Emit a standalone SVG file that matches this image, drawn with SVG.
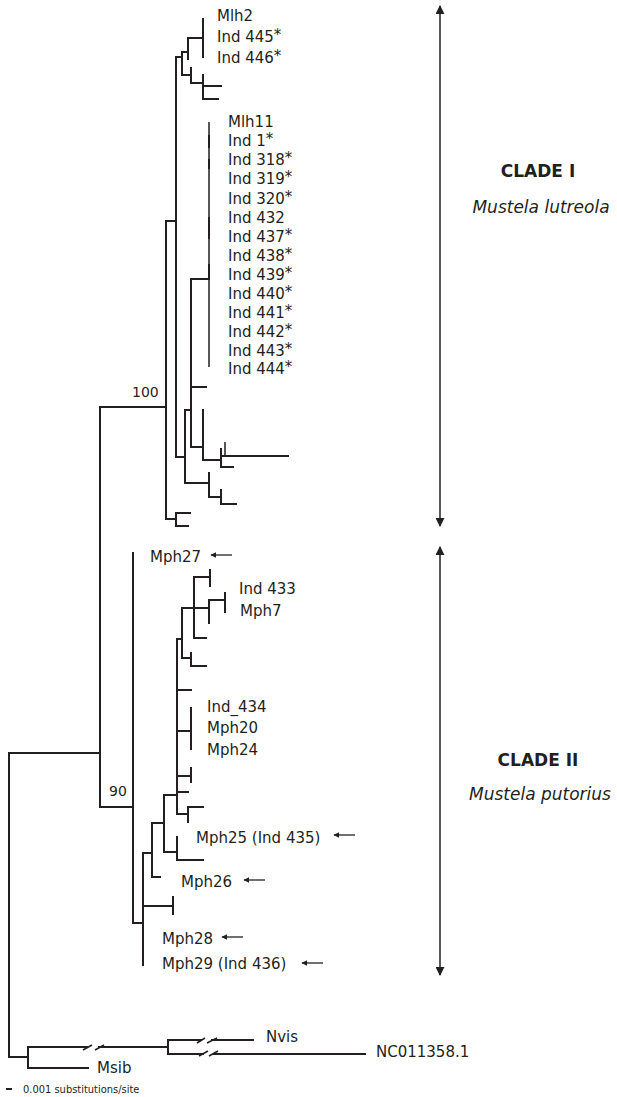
<svg xmlns="http://www.w3.org/2000/svg" width="617" height="1097" viewBox="0 0 617 1097">
<style>
.br{fill:none;stroke:#231f20;stroke-width:2;stroke-linecap:square}
.thin{fill:none;stroke:#231f20;stroke-width:1.5}
.lb{font-family:"DejaVu Sans",Verdana,sans-serif;font-size:15px;fill:#231f20}
.bs{font-family:"DejaVu Sans",Verdana,sans-serif;font-size:14px;fill:#231f20}
.ar{fill:none;stroke:#231f20;stroke-width:1.3}
.big{font-family:"DejaVu Sans",Verdana,sans-serif;font-size:17px;font-weight:bold;fill:#231f20}
.sp{font-family:"DejaVu Sans",Verdana,sans-serif;font-size:17px;font-style:italic;fill:#231f20}
.sc{font-family:"DejaVu Sans Condensed","DejaVu Sans",sans-serif;font-size:11px;fill:#231f20}
</style>
<defs>
<marker id="ah" viewBox="0 0 10 10" refX="9" refY="5" markerWidth="6" markerHeight="6" orient="auto-start-reverse" markerUnits="userSpaceOnUse">
<path d="M0 0 L10 5 L0 10 z" fill="#231f20"/>
</marker>
<marker id="ah2" viewBox="0 0 10 10" refX="9" refY="5" markerWidth="9" markerHeight="9" orient="auto-start-reverse" markerUnits="userSpaceOnUse">
<path d="M0 0 L10 5 L0 10 z" fill="#231f20"/>
</marker>
</defs>
<g id="connectors">
<path class="br" d="M9 753 H100 M100 407 V807 M100 807 H133 M9 753 V1057
M100 407 H166 M166 221 V519 M166 221 H176 M176 57 V457 M176 57 H182 M182 52 V75 M182 52 H188 M188 38 V59 M188 38 H203 M203 19 V57
M182 75 H191 M191 68 V83 M191 83 H203 M203 75 V99 M203 86 H221 M203 99 H218
M176 457 H185 M185 410 V483 M185 410 H191 M191 279 V447 M191 279 H209
M191 387 H206 M191 447 H203 M203 410 V460 M203 460 H221 M221 449 V467 M221 456 H288 M221 467 H233
M185 483 H209 M209 473 V497 M209 497 H221 M221 490 V504 M221 504 H236
M166 519 H176 M176 513 V526 M176 513 H190 M176 526 H188"/>
<path class="thin" d="M225 442 V456 M209 122 V367"/>
<path class="br" d="M209 136 V147 M209 160 V168 M209 218 V238 M209 265 V277 M203 410 V443"/>
<path class="br" d="M133 553 V923 M133 923 H143 M143 853 V965 M143 906 H173 M173 897 V914
M143 853 H152 M152 823 V877 M152 877 H160 M152 823 H164 M164 795 V852 M164 795 H177
M177 639 V814 M177 639 H182 M182 608 V658 M182 608 H194 M194 577 V638 M194 577 H210 M210 570 V586
M194 608 H209 M209 600 V623 M209 600 H225 M225 593 V612 M194 638 H206
M182 658 H191 M191 653 V666 M191 666 H206
M177 690 H191 M177 731 H191 M191 708 V749 M177 776 H191 M191 768 V782
M177 792 H188 M177 814 H188 M188 807 V822 M188 807 H203
M164 852 H177 M177 837 V860 M177 860 H203"/>
<path class="br" d="M9 1057 H28 M28 1047 V1068 M28 1068 H88 M28 1047 H87 M99 1047 H168
M168 1040 V1054 M168 1040 H201 M212 1040 H253 M168 1054 H203 M214 1054 H365"/>
<path class="thin" d="M83 1050 L92 1045 M95 1050 L104 1045 M197 1043 L205 1038 M207 1043 L217 1038 M199 1056 L208 1051 M209 1056 L218 1051"/>
<path class="br" d="M7 1089 H11"/>
<line class="ar" x1="232" y1="555" x2="211" y2="555" marker-end="url(#ah)"/>
<line class="ar" x1="355" y1="835" x2="334" y2="835" marker-end="url(#ah)"/>
<line class="ar" x1="265" y1="880" x2="244" y2="880" marker-end="url(#ah)"/>
<line class="ar" x1="243" y1="937" x2="222" y2="937" marker-end="url(#ah)"/>
<line class="ar" x1="323" y1="963" x2="302" y2="963" marker-end="url(#ah)"/>
<line class="thin" x1="440" y1="6" x2="440" y2="526" marker-start="url(#ah2)" marker-end="url(#ah2)"/>
<line class="thin" x1="440" y1="547" x2="440" y2="975" marker-start="url(#ah2)" marker-end="url(#ah2)"/>
</g>
<g id="clade1-leaves">
<text class="lb" x="217" y="21">Mlh2</text>
<text class="lb" x="217" y="42">Ind 445<tspan dy="-2">*</tspan></text>
<text class="lb" x="217" y="63">Ind 446<tspan dy="-2">*</tspan></text>
<text class="lb" x="228" y="127">Mlh11</text>
<text class="lb" x="228" y="146">Ind 1<tspan dy="-2">*</tspan></text>
<text class="lb" x="228" y="165">Ind 318<tspan dy="-2">*</tspan></text>
<text class="lb" x="228" y="184">Ind 319<tspan dy="-2">*</tspan></text>
<text class="lb" x="228" y="204">Ind 320<tspan dy="-2">*</tspan></text>
<text class="lb" x="228" y="223">Ind 432</text>
<text class="lb" x="228" y="242">Ind 437<tspan dy="-2">*</tspan></text>
<text class="lb" x="228" y="261">Ind 438<tspan dy="-2">*</tspan></text>
<text class="lb" x="228" y="280">Ind 439<tspan dy="-2">*</tspan></text>
<text class="lb" x="228" y="299">Ind 440<tspan dy="-2">*</tspan></text>
<text class="lb" x="228" y="318">Ind 441<tspan dy="-2">*</tspan></text>
<text class="lb" x="228" y="337">Ind 442<tspan dy="-2">*</tspan></text>
<text class="lb" x="228" y="356">Ind 443<tspan dy="-2">*</tspan></text>
<text class="lb" x="228" y="374">Ind 444<tspan dy="-2">*</tspan></text>
</g>
<g id="clade2-leaves">
<text class="lb" x="150" y="562">Mph27</text>
<text class="lb" x="239" y="594">Ind 433</text>
<text class="lb" x="240" y="616">Mph7</text>
<text class="lb" x="207" y="712">Ind_434</text>
<text class="lb" x="207" y="733">Mph20</text>
<text class="lb" x="207" y="755">Mph24</text>
<text class="lb" x="196" y="843">Mph25 (Ind 435)</text>
<text class="lb" x="181" y="887">Mph26</text>
<text class="lb" x="162" y="944">Mph28</text>
<text class="lb" x="162" y="969">Mph29 (Ind 436)</text>
</g>
<g id="outgroups">
<text class="lb" x="97" y="1073">Msib</text>
<text class="lb" x="266" y="1042">Nvis</text>
<text class="lb" x="376" y="1057">NC011358.1</text>
</g>
<g id="bootstrap">
<text class="bs" x="132" y="397">100</text>
<text class="bs" x="109" y="796">90</text>
</g>
<g id="clade1">
<text class="big" x="538" y="177" text-anchor="middle">CLADE I</text>
<text class="sp" x="541" y="213" text-anchor="middle">Mustela lutreola</text>
</g>
<g id="clade2">
<text class="big" x="538" y="766" text-anchor="middle">CLADE II</text>
<text class="sp" x="540" y="800" text-anchor="middle">Mustela putorius</text>
</g>
<g id="scale">
<text class="sc" x="23" y="1093">0.001 substitutions/site</text>
</g>
</svg>
